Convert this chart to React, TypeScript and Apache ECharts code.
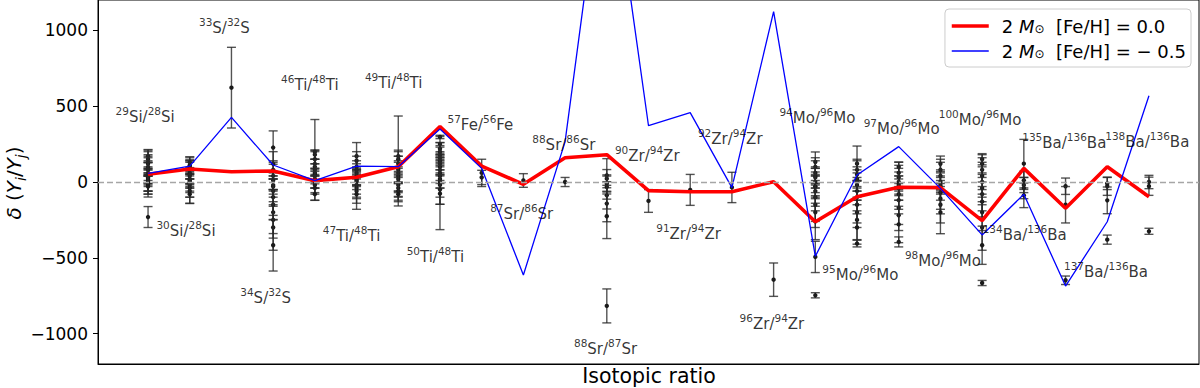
import React, { useEffect, useRef } from "react";
import * as echarts from "echarts";

// ---- data ----
const supA = ["29","30","33","34","46","47","49","50","57","87","88","88","90","91","92","96","94","95","97","98","100","134","135","137","138"];
const elA = ["Si","Si","S","S","Ti","Ti","Ti","Ti","Fe","Sr","Sr","Sr","Zr","Zr","Zr","Zr","Mo","Mo","Mo","Mo","Mo","Ba","Ba","Ba","Ba"];
const supB = ["28","28","32","32","48","48","48","48","56","86","86","87","94","94","94","94","96","96","96","96","96","136","136","136","136"];
const elB = elA;
const labelX = [-0.07,0.91,1.83,2.82,3.88,4.88,5.89,6.89,7.97,8.96,9.97,10.97,11.97,12.96,13.96,14.96,16.05,17.08,18.07,19.06,19.95,21.02,21.97,22.97,23.96];
const labelY = [442,-312,1029,-752,651,-343,665,-481,387,-200,259,-1086,185,-328,299,-921,432,-598,365,-510,424,-334,270,-580,277];

const redModel = [51,86,68,73,9,31,101,365,105,-15,160,180,-57,-64,-64,2,-262,-97,-35,-37,-255,90,-173,101,-97];
const blueModel = [57,105,426,112,9,105,101,349,90,-613,266,2330,371,457,-37,1123,-490,46,233,-42,-349,-81,-686,-262,569];

const yTicks = [-1000,-500,0,500,1000];

// measured grains: [value, error] per ratio
const obs29Si = [[170,44],[150,60],[130,50],[120,80],[100,60],[90,40],[80,90],[60,70],[50,40],[40,100],[30,50],[20,80],[10,40],[0,60],[-10,70],[-20,60],[-30,69],[-231,69]];
const obs30Si = [[130,35],[110,55],[100,50],[80,60],[60,70],[50,90],[40,50],[20,60],[10,40],[0,70],[-10,50],[-20,80],[-40,60],[-60,80],[-80,62]];
const obs33S = [[622,266]];
const obs34S = [[227,110],[120,80],[80,60],[40,90],[10,60],[-20,80],[-30,50],[-60,100],[-100,120],[-150,100],[-200,140],[-250,120],[-300,150],[-417,170]];
const obs46Ti = [[200,212],[180,30],[150,60],[120,80],[100,50],[80,70],[60,60],[50,40],[40,80],[20,60],[0,70],[-20,60],[-40,81],[-80,40]];
const obs47Ti = [[170,90],[140,60],[100,70],[80,40],[60,80],[40,60],[20,70],[10,40],[0,80],[-20,90],[-40,60],[-60,120],[-80,60]];
const obs49Ti = [[170,265],[150,60],[120,80],[100,70],[80,90],[60,70],[40,100],[20,80],[0,70],[-20,80],[-40,90],[-60,60],[-80,78]];
const obs50Ti = [[297,11],[250,50],[220,40],[200,60],[180,50],[160,80],[140,40],[120,70],[100,60],[80,90],[60,50],[40,80],[20,60],[0,147],[-20,80],[-50,97],[-77,237]];
const obs57Fe = [[60,90],[30,47]];
const obs87Sr86Sr = [[10,45]];
const obs88Sr86Sr = [[0,30]];
const obs88Sr87Sr = [[44,110],[22,60],[-11,50],[-33,80],[-88,90],[-142,120],[-226,147],[-817,112]];
const obs90Zr = [[-125,75]];
const obs91Zr = [[-52,102]];
const obs92Zr = [[-36,100]];
const obs96Zr = [[-644,110]];
const obs94Mo = [[132,66],[100,60],[60,80],[40,50],[30,70],[0,90],[-30,80],[-30,40],[-60,100],[-100,90],[-150,110],[-200,100],[-260,120],[-494,103],[-747,17]];
const obs95Mo = [[121,116],[80,70],[50,90],[20,80],[0,60],[-20,100],[-60,90],[-100,110],[-150,120],[-200,100],[-250,130],[-300,110],[-406,22]];
const obs97Mo = [[99,33],[60,70],[30,80],[0,90],[-20,60],[-40,80],[-80,100],[-120,90],[-170,110],[-220,100],[-280,120],[-395,33]];
const obs98Mo = [[120,51],[80,70],[40,90],[0,80],[-20,50],[-30,90],[-70,110],[-110,100],[-150,120],[-200,141]];
const obs100Mo = [[150,37],[120,60],[80,80],[40,90],[0,100],[-40,90],[-80,110],[-130,100],[-200,120],[-300,150],[-417,126],[-666,17]];
const obs134Ba = [[121,160],[11,60],[-20,50],[-40,70],[-88,81]];
const obs135Ba = [[-28,54],[-150,120],[-648,28]];
const obs137Ba = [[-10,40],[-28,60],[-121,88],[-380,30]];
const obs138Ba = [[0,44],[-28,60],[-325,20]];

const observations = [obs29Si,obs30Si,obs33S,obs34S,obs46Ti,obs47Ti,obs49Ti,obs50Ti,obs57Fe,obs87Sr86Sr,obs88Sr86Sr,obs88Sr87Sr,obs90Zr,obs91Zr,obs92Zr,obs96Zr,obs94Mo,obs95Mo,obs97Mo,obs98Mo,obs100Mo,obs134Ba,obs135Ba,obs137Ba,obs138Ba];

const nameRed = "2 Msun [Fe/H] = 0.0";
const nameBlue = "2 Msun [Fe/H] = -0.5";

const FONT = "DejaVu Sans";

export default function App() {
  const ref = useRef<HTMLDivElement>(null);
  useEffect(() => {
    if (!ref.current) return;
    const chart = echarts.init(ref.current, undefined, { renderer: "svg" });
    const errData: number[][] = [];
    observations.forEach((arr, i) => arr.forEach(([v, e]) => errData.push([i, v, e])));
    const labelData = labelX.map((x, i) => [x, labelY[i]]);
    const option: any = {
      animation: false,
      textStyle: { fontFamily: FONT },
      grid: { left: 98, right: 1, top: 0, bottom: 24, show: true, borderColor: "#000", borderWidth: 1, containLabel: false },
      xAxis: {
        type: "value", min: -1.2, max: 25.2,
        axisLine: { show: true, onZero: false, lineStyle: { color: "#000", width: 1 } },
        axisTick: { show: false }, axisLabel: { show: false }, splitLine: { show: false },
      },
      yAxis: {
        type: "value", min: -1200, max: 1200,
        axisLine: { show: true, onZero: false, lineStyle: { color: "#000", width: 1 } },
        axisTick: { show: true, customValues: yTicks, length: 5, lineStyle: { color: "#000" } },
        axisLabel: { customValues: yTicks, fontSize: 17, color: "#000", margin: 10, fontFamily: FONT,
          formatter: (v: number) => (v < 0 ? "\u2212" + Math.abs(v) : String(v)) },
        splitLine: { show: false },
      },
      legend: {
        data: [
          { name: nameRed, lineStyle: { width: 3.6, color: "#ff0000" } },
          { name: nameBlue, lineStyle: { width: 1.3, color: "#0000ff" } },
        ],
        orient: "vertical", right: 9, top: 9,
        itemWidth: 37, itemHeight: 16, itemGap: 7,
        padding: [8, 5, 7, 5],
        itemStyle: { opacity: 0 },
        backgroundColor: "rgba(255,255,255,0.8)", borderColor: "#cccccc", borderWidth: 1, borderRadius: 4,
        textStyle: { fontSize: 18, lineHeight: 18, color: "#000", fontFamily: FONT, padding: [0, 0, 0, 8],
          rich: {
            i: { fontSize: 18, lineHeight: 18, fontStyle: "italic", fontFamily: FONT },
            o: { fontSize: 12, lineHeight: 18, fontFamily: FONT, verticalAlign: "bottom" },
          } },
        formatter: (n: string) => n === nameRed ? "2 {i|M}{o|\u2299}  [Fe/H] = 0.0" : "2 {i|M}{o|\u2299}  [Fe/H] = \u2212 0.5",
      },
      graphic: [
        { type: "text", x: 14, y: 183, rotation: Math.PI / 2, z: 10,
          style: { text: "{i|\u03b4} ({i|Y}{s|i}/{i|Y}{s|j})", fontSize: 20, fontFamily: FONT, fill: "#000", align: "center", verticalAlign: "middle",
            rich: { i: { fontStyle: "italic", fontSize: 20, fontFamily: FONT }, s: { fontStyle: "italic", fontSize: 14, fontFamily: FONT, verticalAlign: "bottom", padding: [0,0,-4,0] } } } },
        { type: "text", x: 649, y: 376, z: 10,
          style: { text: "Isotopic ratio", fontSize: 20.5, fontFamily: FONT, fill: "#000", align: "center", verticalAlign: "middle" } },
      ],
      series: [
        { type: "line", name: "zero", data: [], z: 1, silent: true,
          markLine: { silent: true, symbol: "none", label: { show: false },
            lineStyle: { color: "#a6a6a6", type: [6, 3], width: 1.3 }, data: [{ yAxis: 0 }] } },
        { type: "custom", name: "obs", z: 2, data: errData, encode: { x: 0, y: 1 },
          renderItem: (params: any, api: any) => {
            const x = api.value(0), v = api.value(1), e = api.value(2);
            const t = api.coord([x, v + e]);
            const b = api.coord([x, v - e]);
            const m = api.coord([x, v]);
            const cw = 4.5;
            const st = { stroke: "rgba(40,40,40,0.8)", lineWidth: 1.4 };
            return { type: "group", children: [
              { type: "line", shape: { x1: t[0], y1: t[1], x2: b[0], y2: b[1] }, style: st },
              { type: "line", shape: { x1: t[0] - cw, y1: t[1], x2: t[0] + cw, y2: t[1] }, style: st },
              { type: "line", shape: { x1: b[0] - cw, y1: b[1], x2: b[0] + cw, y2: b[1] }, style: st },
              { type: "circle", shape: { cx: m[0], cy: m[1], r: 2.2 }, style: { fill: "#1a1a1a" } },
            ] };
          } },
        { type: "line", name: nameRed, z: 3, data: redModel.map((v, i) => [i, v]), symbol: "none", showSymbol: false,
          lineStyle: { color: "#ff0000", width: 3.6 }, itemStyle: { color: "#ff0000" } },
        { type: "line", name: nameBlue, z: 4, data: blueModel.map((v, i) => [i, v]), symbol: "none", showSymbol: false,
          lineStyle: { color: "#0000ff", width: 1.3 }, itemStyle: { color: "#0000ff" } },
        { type: "scatter", name: "labels", z: 5, data: labelData, symbolSize: 1, itemStyle: { color: "rgba(0,0,0,0)" }, silent: true,
          label: { show: true, position: "inside", color: "#000", fontFamily: FONT, textBorderWidth: 0,
            formatter: (p: any) => `{s|${supA[p.dataIndex]}}{m|${elA[p.dataIndex]}/}{s|${supB[p.dataIndex]}}{m|${elB[p.dataIndex]}}`,
            rich: {
              m: { fontSize: 15, lineHeight: 19, fontFamily: FONT, color: "#000", verticalAlign: "bottom", textBorderWidth: 0 },
              s: { fontSize: 10.5, lineHeight: 12, fontFamily: FONT, color: "#000", verticalAlign: "top", textBorderWidth: 0 },
            } } },
      ],
    };
    chart.setOption(option);
    return () => chart.dispose();
  }, []);
  return <div ref={ref} style={{ width: 1200, height: 388, position: "absolute", left: 0, top: 0 }} />;
}
